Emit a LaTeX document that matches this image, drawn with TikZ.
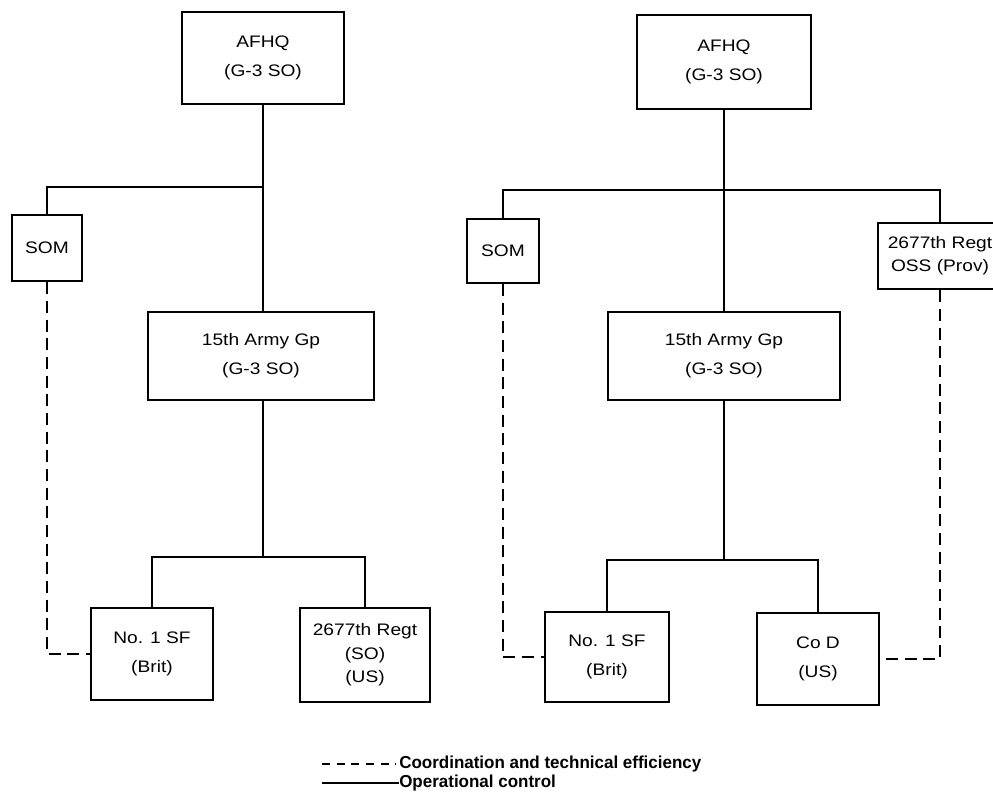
\documentclass[tikz,border=0pt]{standalone}
\usepackage{fontspec}
\setmainfont{Liberation Sans}[FakeStretch=1.15]
\newfontfamily\keyfont[FakeStretch=0.98]{Liberation Sans}
\usetikzlibrary{positioning}

\begin{document}
\begin{tikzpicture}[x=0.75pt,y=-0.75pt,
  unit/.style={draw, line width=1.4pt, align=center, inner sep=0pt,
    font=\fontsize{12.5}{21.5}\selectfont},
  tight/.style={font=\fontsize{12.5}{17.5}\selectfont},
  ctrl/.style={line width=1.4pt},
  coord/.style={line width=1.4pt, dash pattern=on 9pt off 5pt},
  keytext/.style={anchor=west, inner sep=0pt, font=\keyfont\bfseries\fontsize{13}{14}\selectfont}]
\useasboundingbox (0,0) rectangle (993,792);
\clip (0,0) rectangle (993,792);

% Left chart
\node[unit, minimum width=121pt, minimum height=69pt] (afhqL) at (263,58) {AFHQ\\(G-3 SO)};
\node[unit, minimum width=53pt, minimum height=50pt] (somL) at (47,248) {SOM};
\node[unit, minimum width=169pt, minimum height=66pt] (armyL) at (261,356) {15th Army Gp\\(G-3 SO)};
\node[unit, minimum width=91pt, minimum height=69pt] (sfL) at (152,654) {No. 1 SF\\(Brit)};
\node[unit, tight, minimum width=97pt, minimum height=70pt] (regtL) at (365,655) {2677th Regt\\(SO)\\(US)};
\coordinate (hubL) at (263,187);
\coordinate (forkL) at (263,557);

\draw[ctrl] (afhqL) -- (afhqL |- armyL.north);
\draw[ctrl] (somL.north) |- (hubL);
\draw[ctrl] (armyL.south -| afhqL) -- (forkL);
\draw[ctrl] (sfL.north) |- (forkL) -| (regtL.north);
\draw[coord] (somL.south) |- (sfL.west);

% Right chart
\node[unit, minimum width=131pt, minimum height=71pt] (afhqR) at (724,62) {AFHQ\\(G-3 SO)};
\node[unit, minimum width=54pt, minimum height=48pt] (somR) at (503,251) {SOM};
\node[unit, tight, minimum width=93pt, minimum height=50pt] (ossR) at (940,256) {2677th Regt\\OSS (Prov)};
\node[unit, minimum width=174pt, minimum height=66pt] (armyR) at (724,356) {15th Army Gp\\(G-3 SO)};
\node[unit, minimum width=93pt, minimum height=68pt] (sfR) at (607,657) {No. 1 SF\\(Brit)};
\node[unit, minimum width=91pt, minimum height=69pt] (codR) at (818,659) {Co D\\(US)};
\coordinate (hubR) at (724,190);
\coordinate (forkR) at (724,560);

\draw[ctrl] (afhqR) -- (afhqR |- armyR.north);
\draw[ctrl] (somR.north) |- (hubR) -| (ossR.north);
\draw[ctrl] (armyR.south -| afhqR) -- (forkR);
\draw[ctrl] (sfR.north) |- (forkR) -| (codR.north);
\draw[coord] (somR.south) |- (sfR.west);
\draw[coord] (ossR.south) |- (codR.east);

% Key
\node[keytext] (keyCoord) at (399,764) {Coordination and technical efficiency};
\node[keytext] (keyOper) at (399,783) {Operational control};
\coordinate (keyA) at (322,764);
\coordinate (keyB) at (322,783);
\draw[coord, line width=1.1pt, dash pattern=on 6pt off 5pt, shorten >=2pt] (keyA) -- (keyCoord.west);
\draw[ctrl, line width=1.1pt] (keyB) -- (keyOper.west);
\end{tikzpicture}
\end{document}
